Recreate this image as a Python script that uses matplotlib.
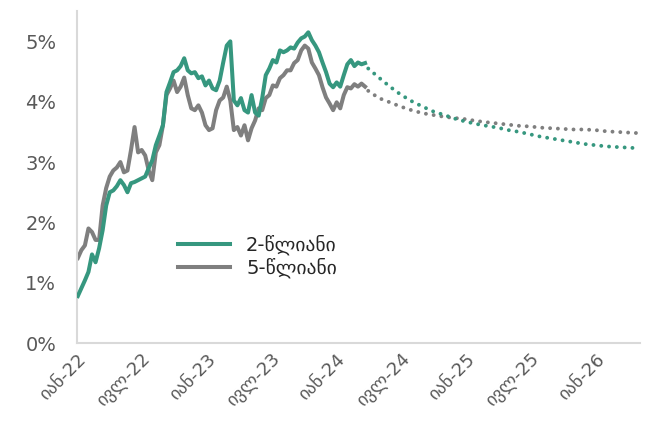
import matplotlib
import matplotlib.pyplot as plt
import pandas as pd

matplotlib.use("Agg")

# --- Dados ---
# histórico: um ponto a cada 10 dias desde 03/01/2022
hist_inicio = "2022-01-03"
hist_2y = [
    0.78, 0.91, 1.04, 1.18, 1.47, 1.34, 1.57, 1.87, 2.28, 2.50,
    2.53, 2.60, 2.70, 2.62, 2.50, 2.65, 2.67, 2.70, 2.73, 2.76,
    2.90, 3.03, 3.28, 3.44, 3.61, 4.16, 4.32, 4.49, 4.52, 4.59,
    4.72, 4.52, 4.47, 4.49, 4.39, 4.42, 4.27, 4.35, 4.22, 4.19,
    4.35, 4.65, 4.93, 5.00, 4.02, 3.94, 4.06, 3.86, 3.82, 4.11,
    3.82, 3.77, 4.06, 4.44, 4.55, 4.69, 4.65, 4.85, 4.82, 4.85,
    4.90, 4.88, 4.98, 5.05, 5.08, 5.15, 5.02, 4.93, 4.82, 4.65,
    4.49, 4.30, 4.24, 4.32, 4.25, 4.44, 4.62, 4.69, 4.59, 4.65,
    4.62, 4.64,
]
hist_5y = [
    1.41, 1.54, 1.62, 1.90, 1.84, 1.71, 1.71, 2.28, 2.57, 2.76,
    2.86, 2.91, 3.00, 2.83, 2.86, 3.20, 3.58, 3.16, 3.20, 3.11,
    2.86, 2.70, 3.16, 3.28, 3.61, 4.11, 4.22, 4.35, 4.16, 4.25,
    4.40, 4.11, 3.89, 3.86, 3.94, 3.82, 3.61, 3.53, 3.56, 3.86,
    4.02, 4.07, 4.25, 4.02, 3.53, 3.58, 3.44, 3.61, 3.36, 3.56,
    3.69, 3.89, 3.86, 4.06, 4.11, 4.27, 4.25, 4.39, 4.44, 4.52,
    4.52, 4.64, 4.69, 4.85, 4.93, 4.88, 4.65, 4.55, 4.44, 4.24,
    4.07, 3.97, 3.86, 3.99, 3.89, 4.11, 4.24, 4.22, 4.29, 4.25,
    4.30, 4.25,
]

# previsão mensal desde abril/2024
prev_inicio = "2024-04-01"
prev_2y = [
    4.55, 4.40, 4.25, 4.12, 4.01, 3.92, 3.84, 3.78, 3.72, 3.67,
    3.63, 3.60, 3.57, 3.53, 3.50, 3.46, 3.42, 3.39, 3.36, 3.33,
    3.30, 3.28, 3.26, 3.25, 3.24, 3.23,
]
prev_5y = [
    4.18, 4.06, 3.99, 3.92, 3.86, 3.81, 3.78, 3.75, 3.73, 3.71,
    3.68, 3.66, 3.64, 3.62, 3.60, 3.59, 3.57, 3.56, 3.55, 3.54,
    3.54, 3.53, 3.51, 3.50, 3.49, 3.48,
]

serie_nomes = ["2-წლიანი", "5-წლიანი"]
meses_geo = {1: "იან", 7: "ივლ"}
y_ticks = [0, 1, 2, 3, 4, 5]

COR_2Y = "#36977F"
COR_5Y = "#7F7F7F"
COR_EIXO = "#D9D9D9"
COR_TEXTO = "#595959"

t_hist = pd.date_range(hist_inicio, periods=len(hist_2y), freq="10D")
t_prev = pd.date_range(prev_inicio, periods=len(prev_2y), freq="MS")

fig = plt.figure(figsize=(6.48, 4.30), dpi=100)
ax = fig.add_axes([0.119, 0.202, 0.869, 0.772])

ax.plot(t_hist, hist_2y, color=COR_2Y, linewidth=2.9, label=serie_nomes[0], zorder=3)
ax.plot(t_hist, hist_5y, color=COR_5Y, linewidth=2.9, label=serie_nomes[1], zorder=2)

# linhas pontilhadas da previsão
ax.plot(t_prev, prev_2y, color=COR_2Y, linewidth=2.8, linestyle=(0, (0.01, 2.0)),
        dash_capstyle="round", zorder=3)
ax.plot(t_prev, prev_5y, color=COR_5Y, linewidth=2.8, linestyle=(0, (0.01, 2.0)),
        dash_capstyle="round", zorder=2)

ax.set_ylim(0, 5.5)
ax.set_xlim(pd.Timestamp("2022-01-01"), pd.Timestamp("2026-05-08"))

ax.set_yticks(y_ticks)
ax.set_yticklabels([f"{v}%" for v in y_ticks])

x_ticks = pd.date_range("2022-01-01", "2026-01-01", freq="6MS")
ax.set_xticks(x_ticks)
ax.set_xticklabels([f"{meses_geo[d.month]}-{d.strftime('%y')}" for d in x_ticks],
                   rotation=45, ha="right", rotation_mode="anchor")

ax.tick_params(axis="y", length=0, pad=15, labelsize=14, labelcolor=COR_TEXTO)
ax.tick_params(axis="x", length=0, pad=5, labelsize=13, labelcolor=COR_TEXTO)

for lado in ["top", "right"]:
    ax.spines[lado].set_visible(False)
for lado in ["left", "bottom"]:
    ax.spines[lado].set_color(COR_EIXO)
    ax.spines[lado].set_linewidth(1.5)

ax.legend(loc="upper left", bbox_to_anchor=(0.148, 0.38), frameon=False,
          fontsize=14, handlelength=2.7, handletextpad=0.8, labelspacing=0.15,
          labelcolor="#262626")

plt.savefig("out.png", dpi=100)
plt.close()
